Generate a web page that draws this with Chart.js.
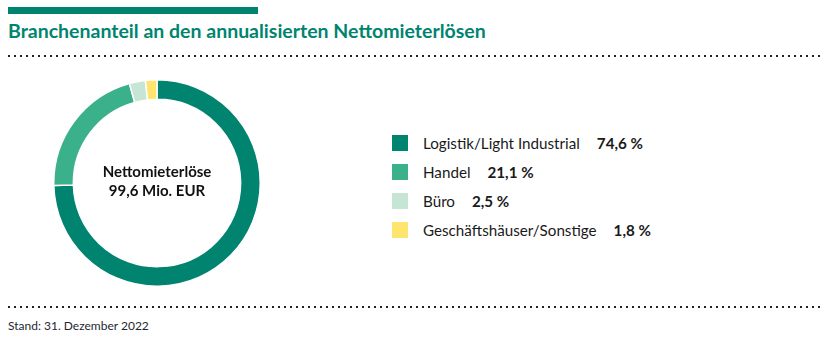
<!DOCTYPE html>
<html lang="de">
<head>
<meta charset="utf-8">
<script src="https://cdn.jsdelivr.net/npm/chart.js@4/dist/chart.umd.min.js"></script>
<style>
  html, body { margin: 0; padding: 0; background: #fff; }
  body { width: 832px; height: 342px; position: relative; overflow: hidden; font-family: Lato, "Open Sans", sans-serif; color: #1a1a1a; }
  .topbar { position: absolute; left: 8px; top: 7px; width: 250px; height: 7px; background: #00846f; }
  h1 { position: absolute; left: 8px; top: 19px; margin: 0; font-size: 19.5px; font-weight: 700; color: #00846f; }
  .dots { position: absolute; left: 8px; width: 816px; height: 2px;
    background: repeating-linear-gradient(to right, #222 0 2px, transparent 2px 6px); }
  #chartBox { position: absolute; left: 53px; top: 79px; width: 208px; height: 208px; }
  #legend { position: absolute; left: 392px; top: 128px; }
  .row { display: flex; align-items: center; height: 29px; font-size: 15.2px; }
  .sw { width: 16px; height: 16px; margin-right: 15px; }
  .val { font-weight: 700; margin-left: 17px; }
  .note { position: absolute; left: 8px; top: 318px; font-size: 12px; color: #1d2733; }
</style>
</head>
<body>
<div class="topbar"></div>
<h1>Branchenanteil an den annualisierten Nettomieterlösen</h1>
<div class="dots" style="top:55px"></div>
<div id="chartBox"><canvas id="donut"></canvas></div>
<div id="legend"></div>
<div class="dots" style="top:306px"></div>
<div class="note">Stand: 31. Dezember 2022</div>
<script>
const categories = ["Logistik/Light Industrial", "Handel", "Büro", "Geschäftshäuser/Sonstige"];
const shares = [74.6, 21.1, 2.5, 1.8];
const colors = ["#00846f", "#3bb18b", "#c6e5d5", "#ffe46e"];
const centerLines = ["Nettomieterlöse", "99,6 Mio. EUR"];

const fmt = v => v.toFixed(1).replace(".", ",") + " %";

// legend rows next to the ring
const legend = document.getElementById("legend");
categories.forEach((name, i) => {
  const row = document.createElement("div");
  row.className = "row";
  row.innerHTML = `<span class="sw" style="background:${colors[i]}"></span><span>${name}</span><span class="val">${fmt(shares[i])}</span>`;
  legend.appendChild(row);
});

// total written in the hole of the doughnut
const centerText = {
  id: "centerText",
  afterDraw(chart) {
    const { ctx, chartArea } = chart;
    const cx = (chartArea.left + chartArea.right) / 2;
    const cy = (chartArea.top + chartArea.bottom) / 2;
    ctx.save();
    ctx.fillStyle = "#111";
    ctx.font = "bold 15px Lato, sans-serif";
    ctx.textAlign = "center";
    ctx.textBaseline = "middle";
    ctx.fillText(centerLines[0], cx, cy - 11);
    ctx.fillText(centerLines[1], cx, cy + 8);
    ctx.restore();
  }
};

new Chart(document.getElementById("donut"), {
  type: "doughnut",
  data: {
    labels: categories,
    datasets: [{
      data: shares,
      backgroundColor: colors,
      borderColor: "#fff",
      borderWidth: 1.5
    }]
  },
  options: {
    responsive: true,
    maintainAspectRatio: false,
    animation: false,
    cutout: "81%",
    layout: { padding: 0 },
    plugins: { legend: { display: false }, tooltip: { enabled: false } }
  },
  plugins: [centerText]
});
</script>
</body>
</html>
